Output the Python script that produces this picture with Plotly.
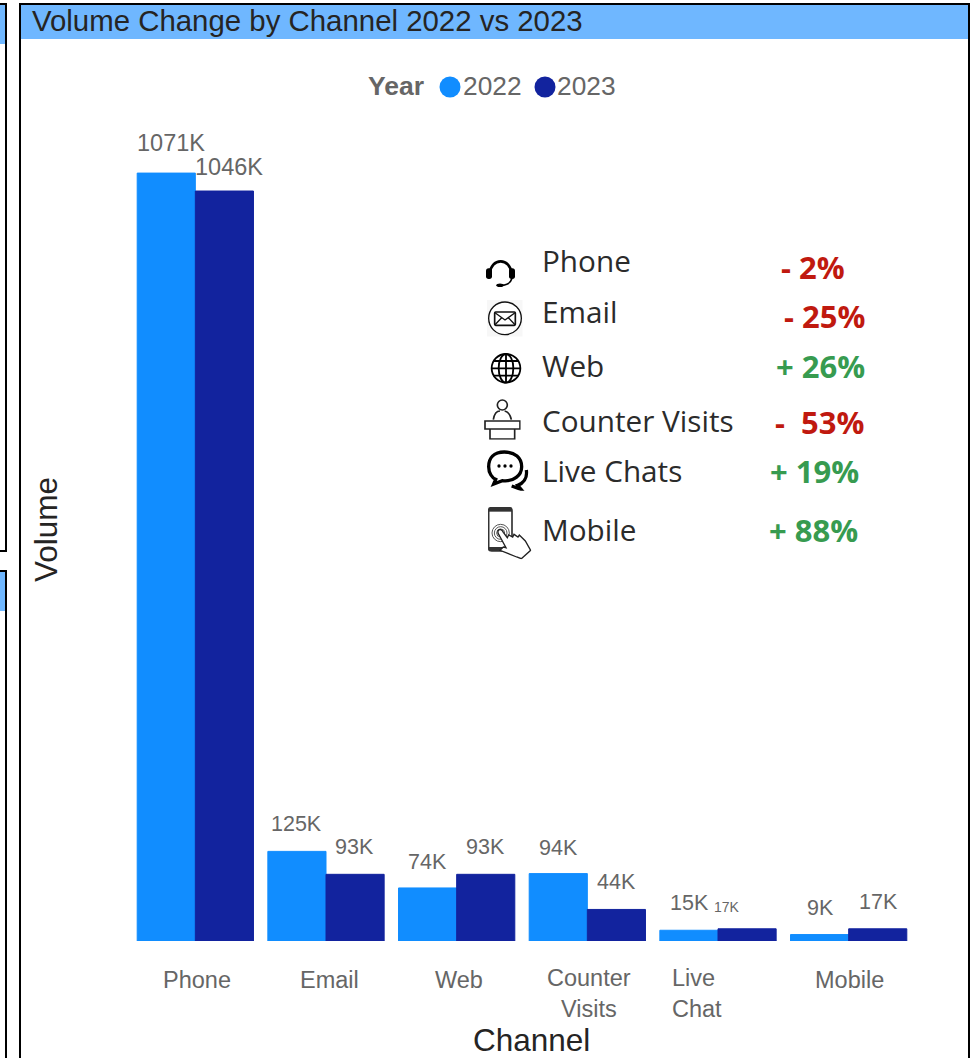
import base64
import plotly.graph_objects as go

# ---------- data ----------
channels = ["Phone", "Email", "Web", "Counter Visits", "Live Chat", "Mobile"]
volume_2022 = [1071, 125, 74, 94, 15, 9]
volume_2023 = [1046, 93, 93, 44, 17, 17]
tick_labels = ["Phone", "Email", "Web", "Counter<br>Visits", "Live<br>Chat", "Mobile"]
inset_names = ["Phone", "Email", "Web", "Counter Visits", "Live Chats", "Mobile"]
inset_changes = ["- 2%", "- 25%", "+ 26%", "-  53%", "+ 19%", "+ 88%"]
legend_years = ["2022", "2023"]

# ---------- styling / layout constants ----------
W, H = 971, 1058
L, R, T, B = 130, 914, 130, 941
Y_MAX = (B - T) / 0.717
C22, C23 = "#118DFF", "#12239E"
GREY, DARK, BAND = "#666666", "#252423", "#6FB7FF"
RED, GREEN = "#C0190F", "#379B50"
SANS = "Liberation Sans"
INSET = "Open Sans"


def px(x):
    return (x - L) / (R - L)


def py(y):
    return (B - y) / (B - T)


fig = go.Figure()
fig.add_bar(x=channels, y=volume_2022, name="2022", marker=dict(color=C22, line=dict(color=C22, width=1)),
            showlegend=False, hoverinfo="x+y")
fig.add_bar(x=channels, y=volume_2023, name="2023", marker=dict(color=C23, line=dict(color=C23, width=1)),
            showlegend=False, hoverinfo="x+y")

ann = []
# data labels: (dx, dy, size) per point
off22 = [(-24.5, 30, 23.5), (-29.5, 27, 21.5), (-29, 26, 21.5), (-28.5, 26, 21.5), (-29, 27, 21.5), (-28, 27, 21.5)]
off23 = [(33.5, 24, 23.5), (28.5, 27, 21.5), (29, 27, 21.5), (29.5, 27, 21.5), (9, 22, 14), (30, 27, 21.5)]
for vals, offs in [(volume_2022, off22), (volume_2023, off23)]:
    for c, v, (dx, dy, s) in zip(channels, vals, offs):
        ann.append(dict(x=c, y=v, xref="x", yref="y", text=f"{v}K", showarrow=False,
                        xshift=dx, yshift=dy, yanchor="middle", xanchor="center",
                        font=dict(family=SANS, size=s, color=GREY)))

# category labels
tick_pos = [(197, 980, "center", "center"), (329, 980, "center", "center"), (459, 980, "center", "center"),
            (589, 993, "center", "center"), (670, 993.5, "left", "left"), (849, 980, "center", "center")]
for t, (x, y, anc, al) in zip(tick_labels, tick_pos):
    ann.append(dict(x=px(x), y=py(y), xref="paper", yref="paper", text=t, showarrow=False,
                    xanchor=anc, align=al, yanchor="middle", font=dict(family=SANS, size=23.5, color=GREY)))

# axis titles
ann.append(dict(x=px(531), y=py(1039.5), xref="paper", yref="paper", text="Channel", showarrow=False,
                xanchor="center", yanchor="middle", font=dict(family=SANS, size=31.5, color=DARK)))
ann.append(dict(x=px(46), y=py(530), xref="paper", yref="paper", text="Volume", showarrow=False, textangle=-90,
                xanchor="center", yanchor="middle", font=dict(family=SANS, size=31.5, color=DARK)))

# panel title
ann.append(dict(x=px(30), y=py(21), xref="paper", yref="paper", text="Volume Change by Channel 2022 vs 2023",
                showarrow=False, xanchor="left", yanchor="middle", font=dict(family=SANS, size=29.4, color=DARK)))

# legend
ann.append(dict(x=px(426), y=py(86), xref="paper", yref="paper", text="<b>Year</b>", showarrow=False,
                xanchor="right", yanchor="middle", font=dict(family=SANS, size=26.5, color=GREY)))
for yr, x in zip(legend_years, [461, 555]):
    ann.append(dict(x=px(x), y=py(86), xref="paper", yref="paper", text=yr, showarrow=False,
                    xanchor="left", yanchor="middle", font=dict(family=SANS, size=26.3, color=GREY)))

# inset list
name_y = [260.5, 311.5, 365.5, 420.5, 470.5, 529.5]
chg_pos = [(847, 267), (867, 316), (867, 366), (866, 422), (861, 471), (860, 530)]
for i, (n, c) in enumerate(zip(inset_names, inset_changes)):
    ann.append(dict(x=px(540), y=py(name_y[i]), xref="paper", yref="paper", text=n, showarrow=False,
                    xanchor="left", yanchor="middle", font=dict(family=INSET, size=29.7, color="#2b2b2b")))
    ann.append(dict(x=px(chg_pos[i][0]), y=py(chg_pos[i][1]), xref="paper", yref="paper", text=f"<b>{c}</b>",
                    showarrow=False, xanchor="right", yanchor="middle",
                    font=dict(family=INSET, size=31, color=RED if c.startswith("-") else GREEN)))


# frames
def rect(x0, y0, x1, y1, fill=None, line=None, lw=0):
    return dict(type="rect", xref="paper", yref="paper", x0=px(x0), x1=px(x1), y0=py(y0), y1=py(y1),
                fillcolor=fill or "rgba(0,0,0,0)", line=dict(color=line or "rgba(0,0,0,0)", width=lw), layer="below")


def dot(cx, cy, r, col):
    return dict(type="circle", xref="paper", yref="paper", x0=px(cx - r), x1=px(cx + r), y0=py(cy + r), y1=py(cy - r),
                fillcolor=col, line=dict(width=0), layer="above")


shapes = [
    rect(-10, 5, 6, 44, fill=BAND),
    rect(-10, 571, 6, 611, fill=BAND),
    rect(-10, 4, 6, 551, line="black", lw=2),
    rect(-10, 571, 6, 1100, line="black", lw=2),
    rect(21, 5, 968, 39, fill=BAND),
    rect(20, 4, 969, 1100, line="black", lw=2),
    dot(450, 87, 10.5, C22),
    dot(545, 87, 10.5, C23),
]


# icons (inline SVG, viewBox in 3x pixels)
def svg_uri(w, h, body):
    s = f'<svg xmlns="http://www.w3.org/2000/svg" width="{w*4}" height="{h*4}" viewBox="0 0 {w} {h}">{body}</svg>'
    return "data:image/svg+xml;base64," + base64.b64encode(s.encode()).decode()


icons = [
    (486, 259, 87, 84, '<path d="M13 40A31 33 0 0 1 75 40" fill="none" stroke="#000" stroke-width="8"/>'
                       '<rect x="0" y="28" width="18" height="32" rx="8"/><rect x="69" y="28" width="18" height="32" rx="8"/>'
                       '<path d="M78 58Q72 79 46 79" fill="none" stroke="#000" stroke-width="5"/><ellipse cx="42" cy="79" rx="11" ry="5.5"/>'),
    (487, 300, 107, 110, '<rect width="107" height="110" fill="#f7f7f7"/><circle cx="54" cy="55" r="49" fill="#fff" stroke="#111" stroke-width="4"/>'
                         '<rect x="23" y="36" width="62" height="40" rx="3" fill="none" stroke="#111" stroke-width="5"/>'
                         '<path d="M24 38L54 60L84 38M24 74L44 53M84 74L64 53" fill="none" stroke="#111" stroke-width="4"/>'),
    (490, 353, 96, 93, '<g fill="none" stroke="#000" stroke-width="5.5"><circle cx="48" cy="46" r="43"/><ellipse cx="48" cy="46" rx="22" ry="43"/>'
                       '<path d="M48 3V89M5 46H91M12 24H84M12 68H84"/></g>'),
    (484, 399, 110, 122, '<g fill="none" stroke="#222" stroke-width="5"><circle cx="55" cy="18" r="15"/><path d="M28 62Q32 36 48 36M62 36Q78 40 82 62"/>'
                         '<path d="M3 66H108V90H3Z"/><path d="M18 90V120H92V90"/></g>'),
    (487, 450, 125, 122, '<g fill="none" stroke="#000" stroke-width="10"><path d="M52 6C20 6 5 25 5 50C5 70 16 84 26 88L20 102L46 92C80 96 104 76 104 50C104 24 84 6 52 6Z"/>'
                         '<path d="M118 60C122 85 108 100 92 106L102 118L74 108"/></g>'
                         '<circle cx="36" cy="48" r="5"/><circle cx="54" cy="48" r="5"/><circle cx="72" cy="48" r="5"/>'),
    (488, 507, 130, 157, '<rect x="2" y="2" width="70" height="130" rx="9" fill="#fff" stroke="#333" stroke-width="5"/>'
                         '<rect x="2" y="2" width="70" height="12" fill="#333"/><rect x="2" y="120" width="70" height="12" fill="#333"/>'
                         '<g fill="none" stroke="#555" stroke-width="3"><circle cx="38" cy="78" r="26"/><circle cx="38" cy="78" r="19"/><circle cx="38" cy="78" r="12"/></g>'
                         '<path d="M30 72C34 64 42 68 46 76L58 92L62 84L74 90L78 82L90 90L94 84L112 102L128 130L100 155L86 150L36 130L46 120L54 122L30 78Z" '
                         'fill="#fff" stroke="#222" stroke-width="4"/>'),
]
images = [dict(source=svg_uri(w, h, body), xref="paper", yref="paper", x=px(x), y=py(y),
               sizex=(w / 3) / (R - L), sizey=(h / 3) / (B - T), xanchor="left", yanchor="top",
               sizing="stretch", layer="above")
          for x, y, w, h, body in icons]

fig.update_layout(
    width=W, height=H, autosize=False,
    margin=dict(l=L, r=W - R, t=T, b=H - B, pad=0),
    plot_bgcolor="white", paper_bgcolor="white",
    barmode="group", bargap=0.11, bargroupgap=0, showlegend=False,
    annotations=ann, shapes=shapes, images=images,
    xaxis=dict(showticklabels=False, ticks="", showline=False, showgrid=False, zeroline=False,
               range=[-0.5, 5.5], categoryorder="array", categoryarray=channels),
    yaxis=dict(showticklabels=False, ticks="", showline=False, showgrid=False, zeroline=False,
               range=[0, Y_MAX]),
)

fig.write_html("out.html", config=dict(displayModeBar=False),
               post_script="document.body.style.margin='0';document.body.style.overflow='hidden';")
